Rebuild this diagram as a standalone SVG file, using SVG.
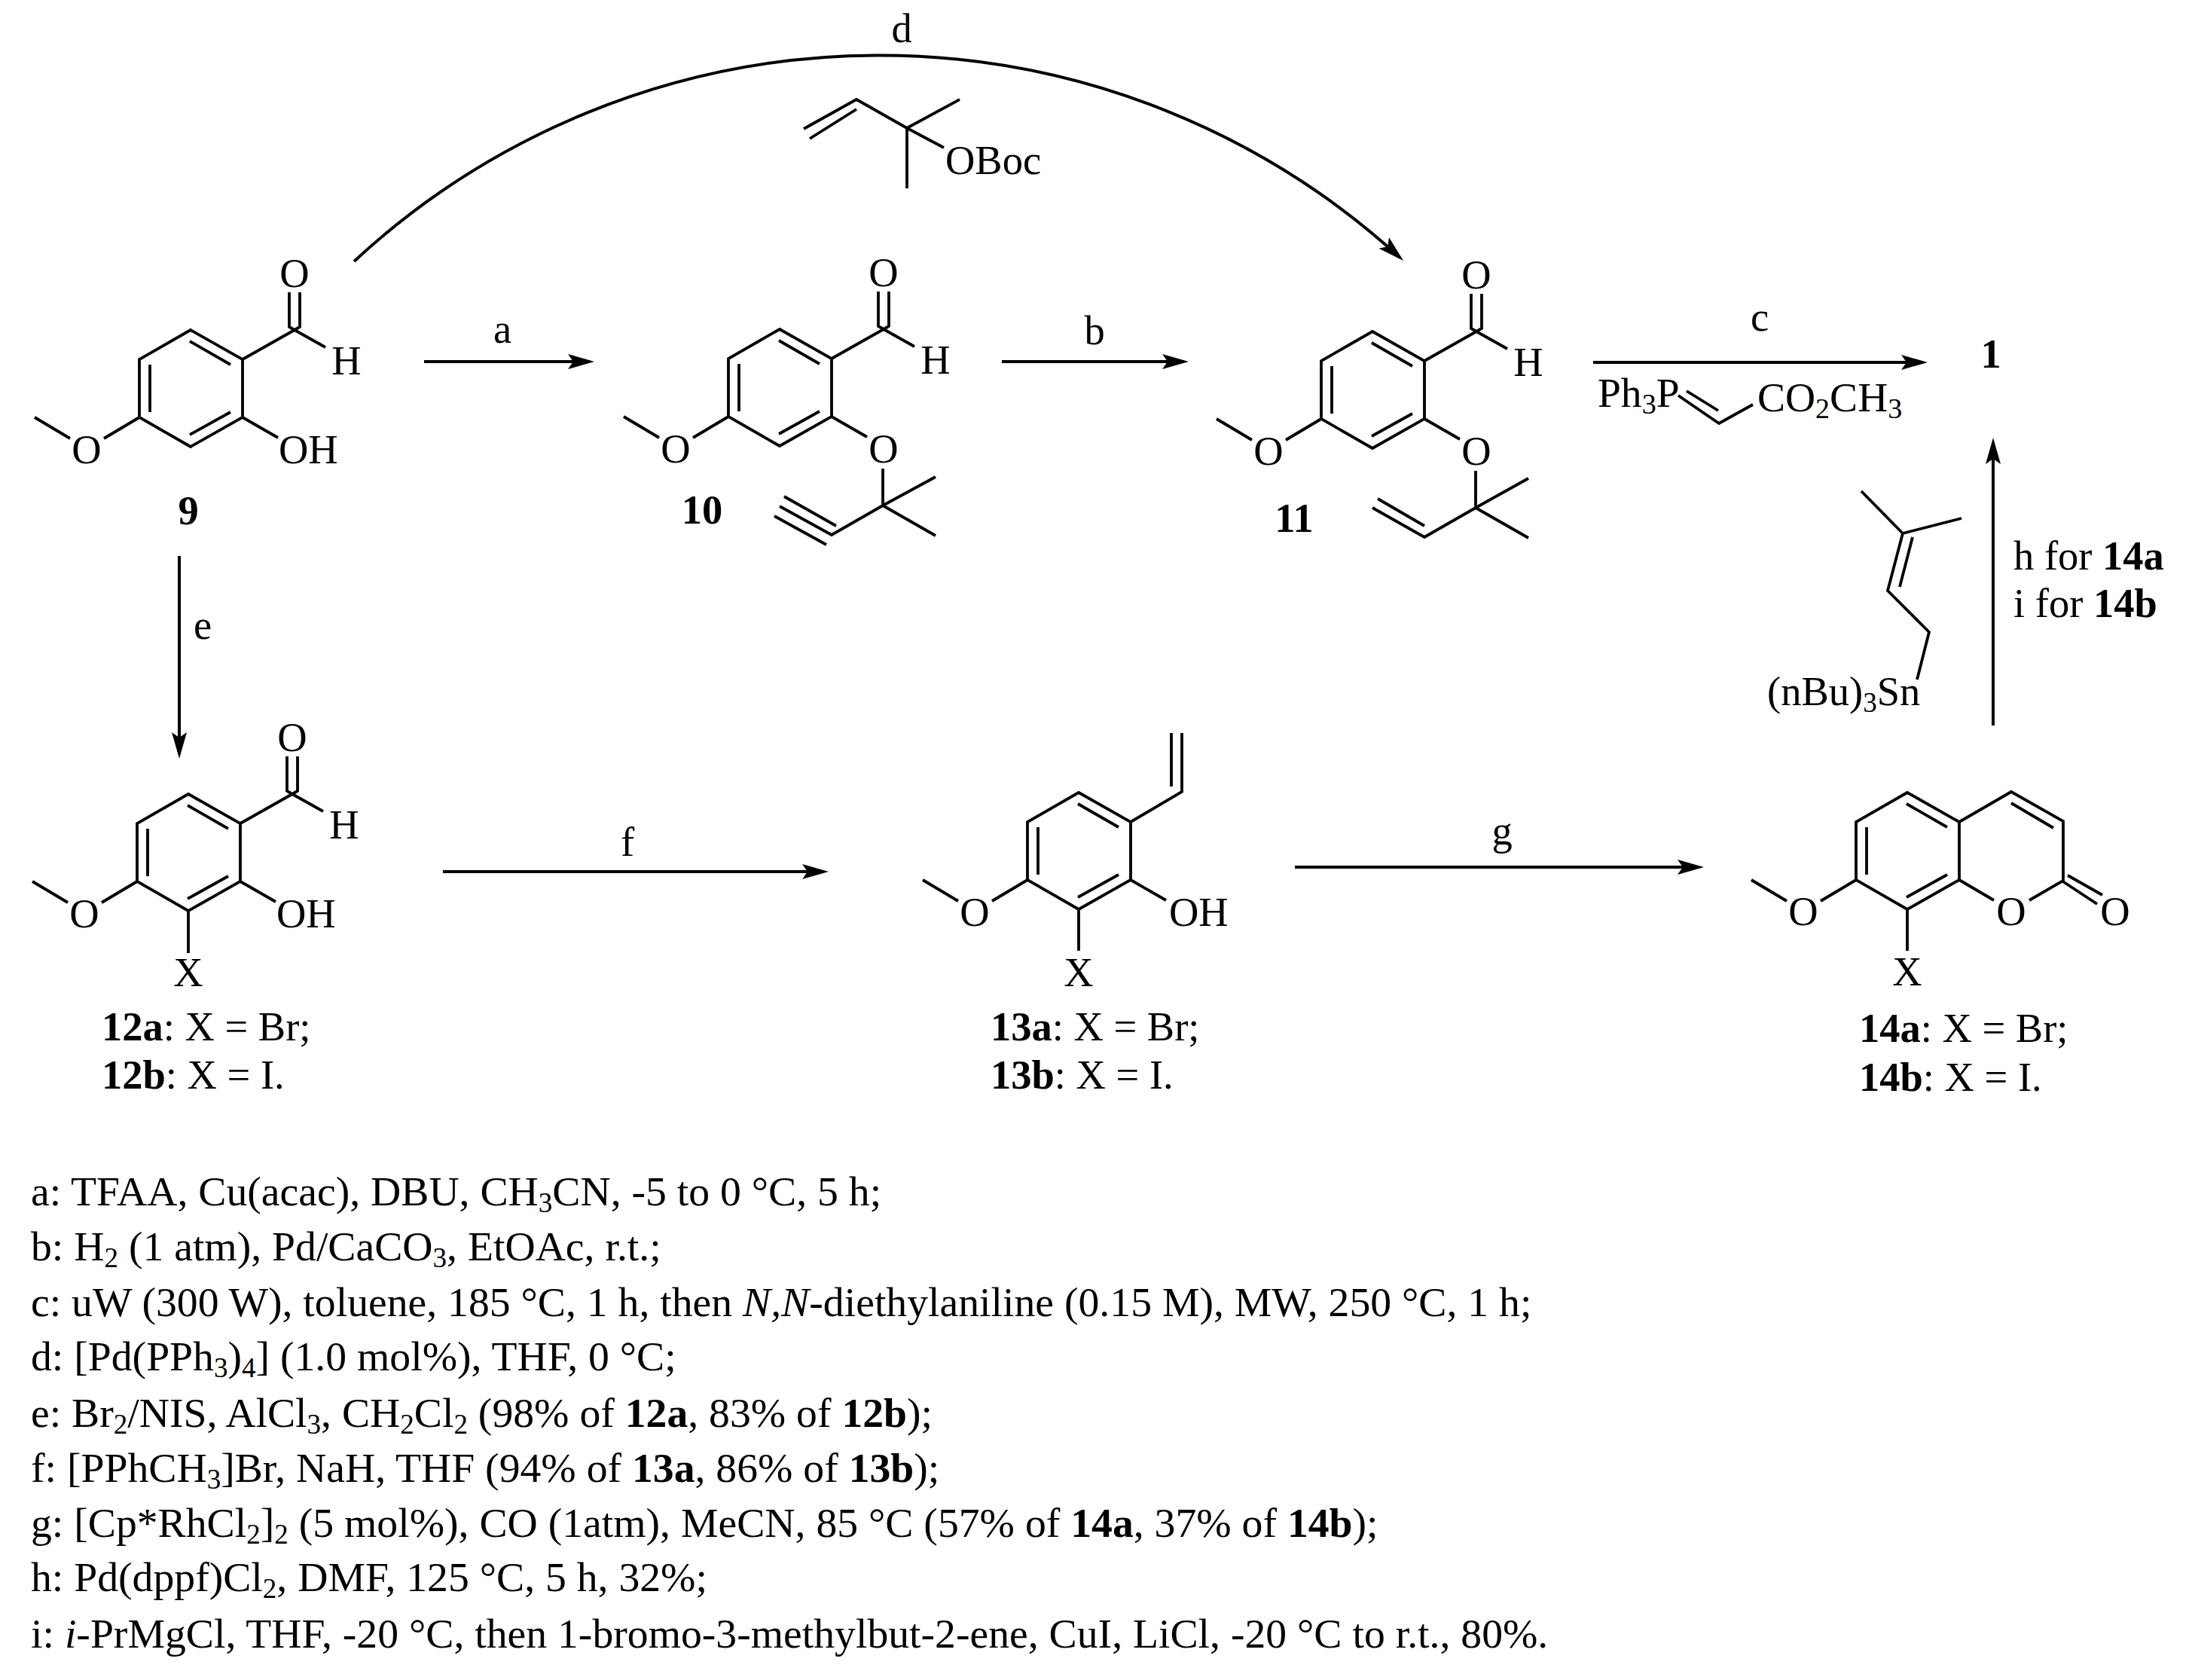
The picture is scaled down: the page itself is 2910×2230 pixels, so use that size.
<svg xmlns="http://www.w3.org/2000/svg" xmlns:xlink="http://www.w3.org/1999/xlink" width="2910" height="2230" viewBox="0 0 2910 2230">
<style>
text{font-family:"Liberation Serif","Times New Roman",serif;font-size:54.500px;fill:#000}
#conditions text{font-size:55.700px}
.m{text-anchor:middle}
.b{font-weight:bold}
.i{font-style:italic}
.s{font-size:37px}
#reagent-ylide text{font-size:55.500px}
#reagent-ylide .s{font-size:38px}
.bond{fill:none;stroke:#000;stroke-width:3.800}
.arrow{fill:none;stroke:#000;stroke-width:4;marker-end:url(#head)}
</style>
<defs>
<marker id="head" markerUnits="userSpaceOnUse" markerWidth="36" markerHeight="22" refX="29" refY="11" orient="auto"><path d="M0 1L35 11L0 21L7 11Z" fill="#000"/></marker>
<path id="ring" class="bond" d="M253 438L322 477V554L253 593L185 554V477Z M199 484V547 M252 453L306 484 M306 547L252 577"/>
<path id="cho" class="bond" d="M322 477L391 438L432 461 M384 388V434L391 438 M398 388V434L391 438"/>
<path id="meo" class="bond" d="M185 554L138 582 M93 582L46 554"/>
</defs>
<rect width="2910" height="2230" fill="#fff"/>
<g id="connectors">
<path class="arrow" d="M470 347A1025 1025 0 0 1 1858.600 342"/>
<path class="arrow" d="M563 480H783"/>
<path class="arrow" d="M1330 480H1572"/>
<path class="arrow" d="M2115 481H2553"/>
<path class="arrow" d="M2646 963V587"/>
<path class="arrow" d="M238 738V1001"/>
<path class="arrow" d="M588 1157H1094"/>
<path class="arrow" d="M1719 1151H2256"/>
<text class="m" x="1197" y="56">d</text>
<text class="m" x="667" y="455">a</text>
<text class="m" x="1453" y="457">b</text>
<text class="m" x="2336" y="439">c</text>
<text class="m" x="269" y="848">e</text>
<text class="m" x="833" y="1136">f</text>
<text class="m" x="1994" y="1121">g</text>
<text x="2673" y="756">h for <tspan class="b">14a</tspan></text>
<text x="2673" y="819">i for <tspan class="b">14b</tspan></text>
</g>
<g id="reagent-oboc">
<path class="bond" d="M1067 171L1137 132L1204 170L1274 132 M1075 184L1137 145 M1204 170L1253 196 M1204 170V250"/>
<text x="1255" y="231">OBoc</text>
</g>
<g id="reagent-ylide">
<path class="bond" d="M2228 525L2282 562L2327 537 M2239 519L2281 545"/>
<text x="2121" y="540">Ph<tspan class="s" dy="9">3</tspan><tspan dy="-9">P</tspan></text>
<text x="2333" y="546">CO<tspan class="s" dy="9">2</tspan><tspan dy="-9">CH</tspan><tspan class="s" dy="9">3</tspan></text>
</g>
<g id="reagent-stannane">
<path class="bond" d="M2471 652L2526 708L2604 688 M2526 708L2506 784L2561 839L2545 902 M2539 713L2522 779"/>
<text x="2346" y="936">(nBu)<tspan class="s" dy="9">3</tspan><tspan dy="-9">Sn</tspan></text>
</g>
<g id="compound-9">
<use href="#ring" xlink:href="#ring"/><use href="#cho" xlink:href="#cho"/><use href="#meo" xlink:href="#meo"/>
<path class="bond" d="M322 554L369 581"/>
<text class="m" x="391" y="381">O</text><text class="m" x="460" y="497">H</text>
<text x="370" y="615">OH</text><text class="m" x="115" y="615">O</text>
<text class="m b" x="250" y="696">9</text>
</g>
<g id="compound-10" transform="translate(782,-1)">
<use href="#ring" xlink:href="#ring"/><use href="#cho" xlink:href="#cho"/><use href="#meo" xlink:href="#meo"/>
<path class="bond" d="M322 554L369 581 M390 623V672L460 634 M390 672L460 712 M390 672L322 711L253 673 M328 699L259 660 M315 724L246 686"/>
<text class="m" x="391" y="381">O</text><text class="m" x="460" y="497">H</text>
<text class="m" x="391" y="615">O</text><text class="m" x="115" y="615">O</text>
<text class="m b" x="150" y="696">10</text>
</g>
<g id="compound-11" transform="translate(1569,2)">
<use href="#ring" xlink:href="#ring"/><use href="#cho" xlink:href="#cho"/><use href="#meo" xlink:href="#meo"/>
<path class="bond" d="M322 554L369 581 M390 623V672L460 633 M390 672L460 712 M390 672L322 711L253 672 M322 696L260 660"/>
<text class="m" x="391" y="381">O</text><text class="m" x="460" y="497">H</text>
<text class="m" x="391" y="615">O</text><text class="m" x="115" y="615">O</text>
<text class="m b" x="149" y="704">11</text>
</g>
<text class="m b" x="2643" y="488" id="compound-1">1</text>
<g id="compound-12" transform="translate(-3,616)">
<use href="#ring" xlink:href="#ring"/><use href="#cho" xlink:href="#cho"/><use href="#meo" xlink:href="#meo"/>
<path class="bond" d="M322 554L369 581 M253 593V649"/>
<text class="m" x="391" y="381">O</text><text class="m" x="460" y="497">H</text>
<text x="370" y="615">OH</text><text class="m" x="115" y="615">O</text><text class="m" x="253" y="693">X</text>
<text x="138" y="765"><tspan class="b">12a</tspan>: X = Br;</text>
<text x="138" y="829"><tspan class="b">12b</tspan>: X = I.</text>
</g>
<g id="compound-13" transform="translate(1179,614)">
<use href="#ring" xlink:href="#ring"/><use href="#meo" xlink:href="#meo"/>
<path class="bond" d="M322 554L369 581 M253 593V648 M322 477L390 437V359 M376 430V359"/>
<text x="373" y="615">OH</text><text class="m" x="115" y="615">O</text><text class="m" x="253" y="695">X</text>
<text x="136" y="767"><tspan class="b">13a</tspan>: X = Br;</text>
<text x="136" y="831"><tspan class="b">13b</tspan>: X = I.</text>
</g>
<g id="compound-14" transform="translate(2279,614)">
<use href="#ring" xlink:href="#ring"/><use href="#meo" xlink:href="#meo"/>
<path class="bond" d="M253 593V648 M322 477L391 437L460 476V555L415 581 M322 554L368 581 M391 452L447 485 M466 548L512 574 M458 555L505 586"/>
<text class="m" x="391" y="614">O</text><text class="m" x="529" y="614">O</text><text class="m" x="115" y="614">O</text><text class="m" x="253" y="694">X</text>
<text x="189" y="769"><tspan class="b">14a</tspan>: X = Br;</text>
<text x="189" y="834"><tspan class="b">14b</tspan>: X = I.</text>
</g>
<g id="conditions">
<text x="41" y="1600">a: TFAA, Cu(acac), DBU, CH<tspan class="s" dy="9">3</tspan><tspan dy="-9">CN, -5 to 0 °C, 5 h;</tspan></text>
<text x="41" y="1673">b: H<tspan class="s" dy="9">2</tspan><tspan dy="-9"> (1 atm), Pd/CaCO</tspan><tspan class="s" dy="9">3</tspan><tspan dy="-9">, EtOAc, r.t.;</tspan></text>
<text x="41" y="1747">c: uW (300 W), toluene, 185 °C, 1 h, then <tspan class="i">N,N</tspan>-diethylaniline (0.15 M), MW, 250 °C, 1 h;</text>
<text x="41" y="1819">d: [Pd(PPh<tspan class="s" dy="9">3</tspan><tspan dy="-9">)</tspan><tspan class="s" dy="9">4</tspan><tspan dy="-9">] (1.0 mol%), THF, 0 °C;</tspan></text>
<text x="41" y="1894">e: Br<tspan class="s" dy="9">2</tspan><tspan dy="-9">/NIS, AlCl</tspan><tspan class="s" dy="9">3</tspan><tspan dy="-9">, CH</tspan><tspan class="s" dy="9">2</tspan><tspan dy="-9">Cl</tspan><tspan class="s" dy="9">2</tspan><tspan dy="-9"> (98% of </tspan><tspan class="b">12a</tspan>, 83% of <tspan class="b">12b</tspan>);</text>
<text x="41" y="1967">f: [PPhCH<tspan class="s" dy="9">3</tspan><tspan dy="-9">]Br, NaH, THF (94% of </tspan><tspan class="b">13a</tspan>, 86% of <tspan class="b">13b</tspan>);</text>
<text x="41" y="2040">g: [Cp*RhCl<tspan class="s" dy="9">2</tspan><tspan dy="-9">]</tspan><tspan class="s" dy="9">2</tspan><tspan dy="-9"> (5 mol%), CO (1atm), MeCN, 85 °C (57% of </tspan><tspan class="b">14a</tspan>, 37% of <tspan class="b">14b</tspan>);</text>
<text x="41" y="2112">h: Pd(dppf)Cl<tspan class="s" dy="9">2</tspan><tspan dy="-9">, DMF, 125 °C, 5 h, 32%;</tspan></text>
<text x="41" y="2187">i: <tspan class="i">i</tspan>-PrMgCl, THF, -20 °C, then 1-bromo-3-methylbut-2-ene, CuI, LiCl, -20 °C to r.t., 80%.</text>
</g>
</svg>
